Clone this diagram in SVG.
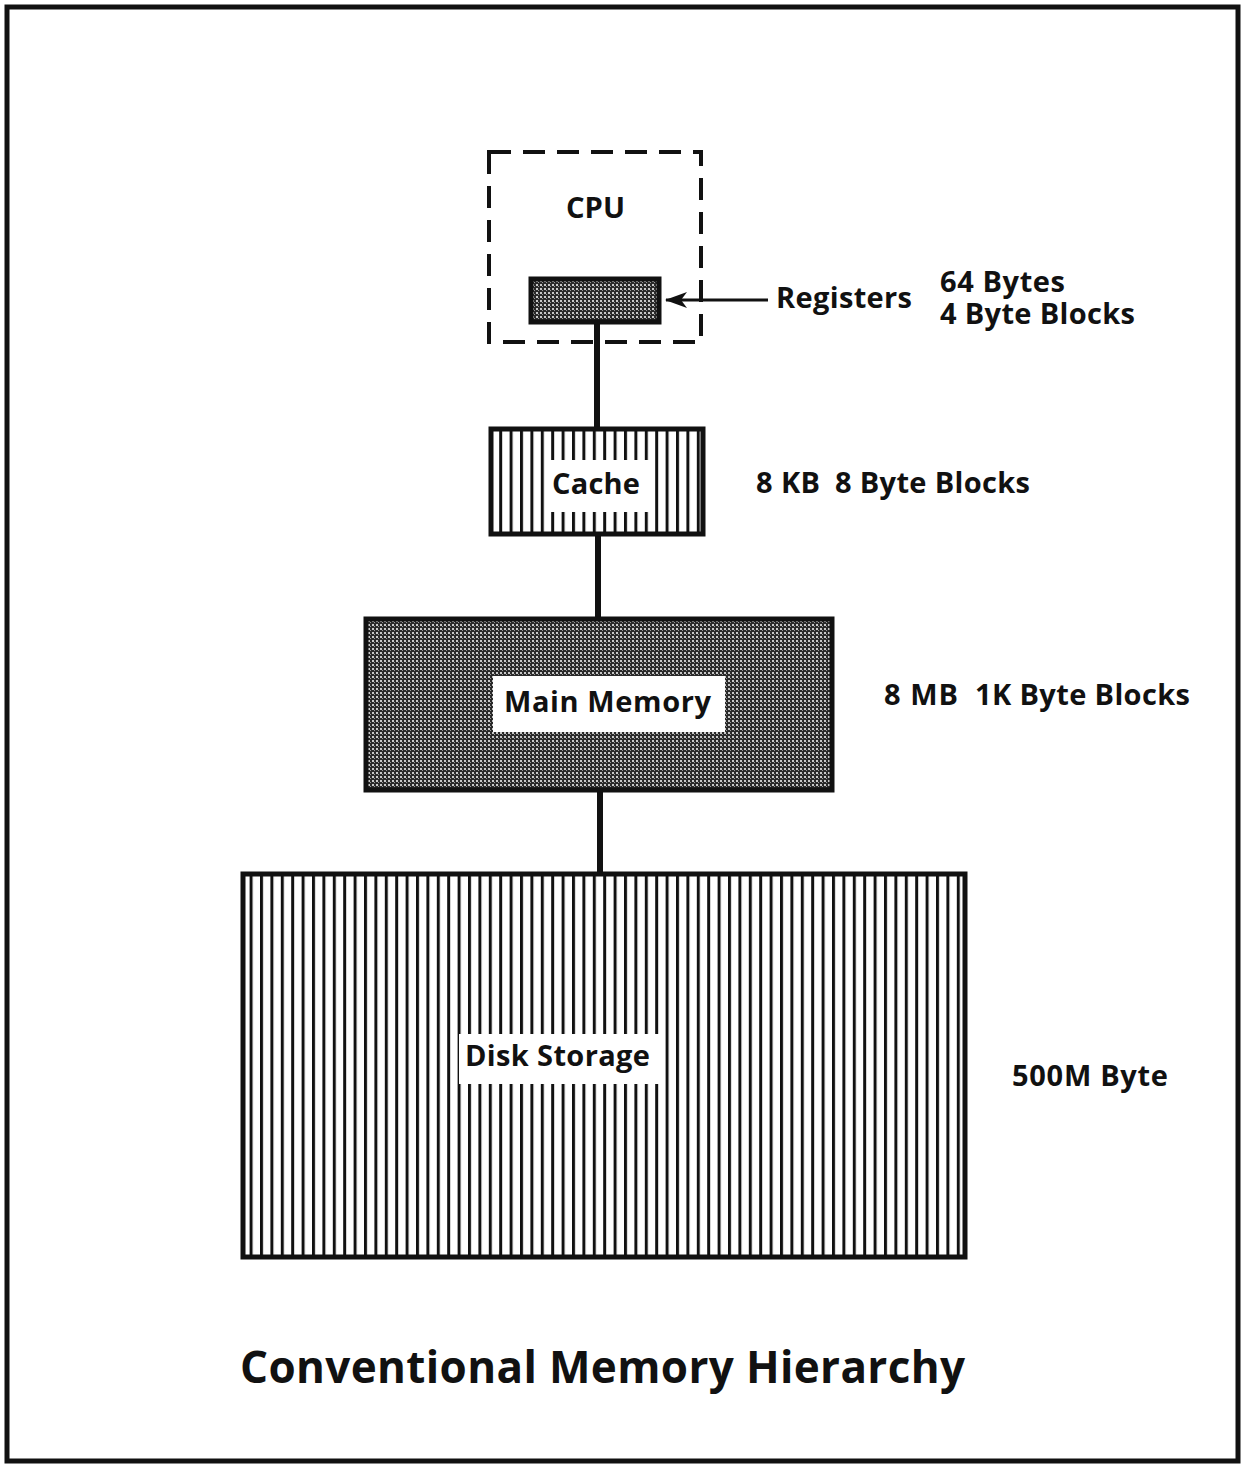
<svg xmlns="http://www.w3.org/2000/svg" width="1244" height="1466" viewBox="0 0 1244 1466">
<style>
.t{font-family:"Open Sans","Noto Sans","Liberation Sans",sans-serif;font-weight:bold;fill:#111;}
.lbl{font-size:29px;}
.box{stroke:#111;stroke-width:5;}
.conn{stroke:#111;stroke-width:6;fill:none;}
</style>
<defs>
<pattern id="stip" width="4" height="4" patternUnits="userSpaceOnUse">
<rect width="4" height="4" fill="#2a2a2a"/>
<rect x="0" y="0" width="2" height="2" fill="#c8c8c8"/>
<rect x="2" y="2" width="1" height="1" fill="#9a9a9a"/>
</pattern>
<pattern id="stripes" width="10.4" height="10" patternUnits="userSpaceOnUse">
<rect width="10.4" height="10" fill="#fff"/>
<rect x="0" y="0" width="3" height="10" fill="#111"/>
</pattern>
<marker id="arr" markerWidth="22" markerHeight="16" refX="21" refY="8" orient="auto" markerUnits="userSpaceOnUse">
<path d="M0,0 L22,8 L0,16 L6,8 Z" fill="#111"/>
</marker>
</defs>
<rect width="1244" height="1466" fill="#fff"/>
<rect x="7" y="7" width="1231" height="1454" fill="none" stroke="#111" stroke-width="5"/>

<g id="connectors">
<line class="conn" x1="597" y1="323" x2="597" y2="427"/>
<line class="conn" x1="598" y1="535" x2="598" y2="617"/>
<line class="conn" x1="600" y1="791" x2="600" y2="872"/>
<line x1="768" y1="300" x2="666" y2="300" stroke="#111" stroke-width="3" marker-end="url(#arr)"/>
</g>

<g id="cpu">
<rect x="489" y="152" width="212" height="190" fill="none" stroke="#111" stroke-width="4" stroke-dasharray="22,12"/>
<text class="t lbl" x="566" y="218" textLength="59" lengthAdjust="spacingAndGlyphs">CPU</text>
</g>

<g id="registers">
<rect class="box" x="531" y="279" width="128" height="43" fill="url(#stip)"/>
<text class="t lbl" x="776" y="308" textLength="136">Registers</text>
<text class="t lbl" x="940" y="292" textLength="125">64 Bytes</text>
<text class="t lbl" x="940" y="324" textLength="195">4 Byte Blocks</text>
</g>

<g id="cache">
<rect class="box" x="491" y="429" width="212" height="105" fill="url(#stripes)"/>
<rect x="545" y="460" width="105" height="52" fill="#fff"/>
<text class="t lbl" x="552" y="494" textLength="88">Cache</text>
<text class="t lbl" x="756" y="493" textLength="64">8 KB</text>
<text class="t lbl" x="835" y="493" textLength="195">8 Byte Blocks</text>
</g>

<g id="main-memory">
<rect class="box" x="366" y="619" width="466" height="171" fill="url(#stip)"/>
<rect x="493" y="676" width="232" height="56" fill="#fff"/>
<text class="t lbl" x="504" y="712" textLength="207">Main Memory</text>
<text class="t lbl" x="884" y="705" textLength="74">8 MB</text>
<text class="t lbl" x="975" y="705" textLength="215">1K Byte Blocks</text>
</g>

<g id="disk-storage">
<rect class="box" x="243" y="874" width="722" height="383" fill="url(#stripes)"/>
<rect x="459" y="1034" width="206" height="50" fill="#fff"/>
<text class="t lbl" x="465" y="1066" textLength="185">Disk Storage</text>
<text class="t lbl" x="1012" y="1086" textLength="156">500M Byte</text>
</g>

<text class="t" x="240" y="1383" font-size="44" textLength="725">Conventional Memory Hierarchy</text>
</svg>
